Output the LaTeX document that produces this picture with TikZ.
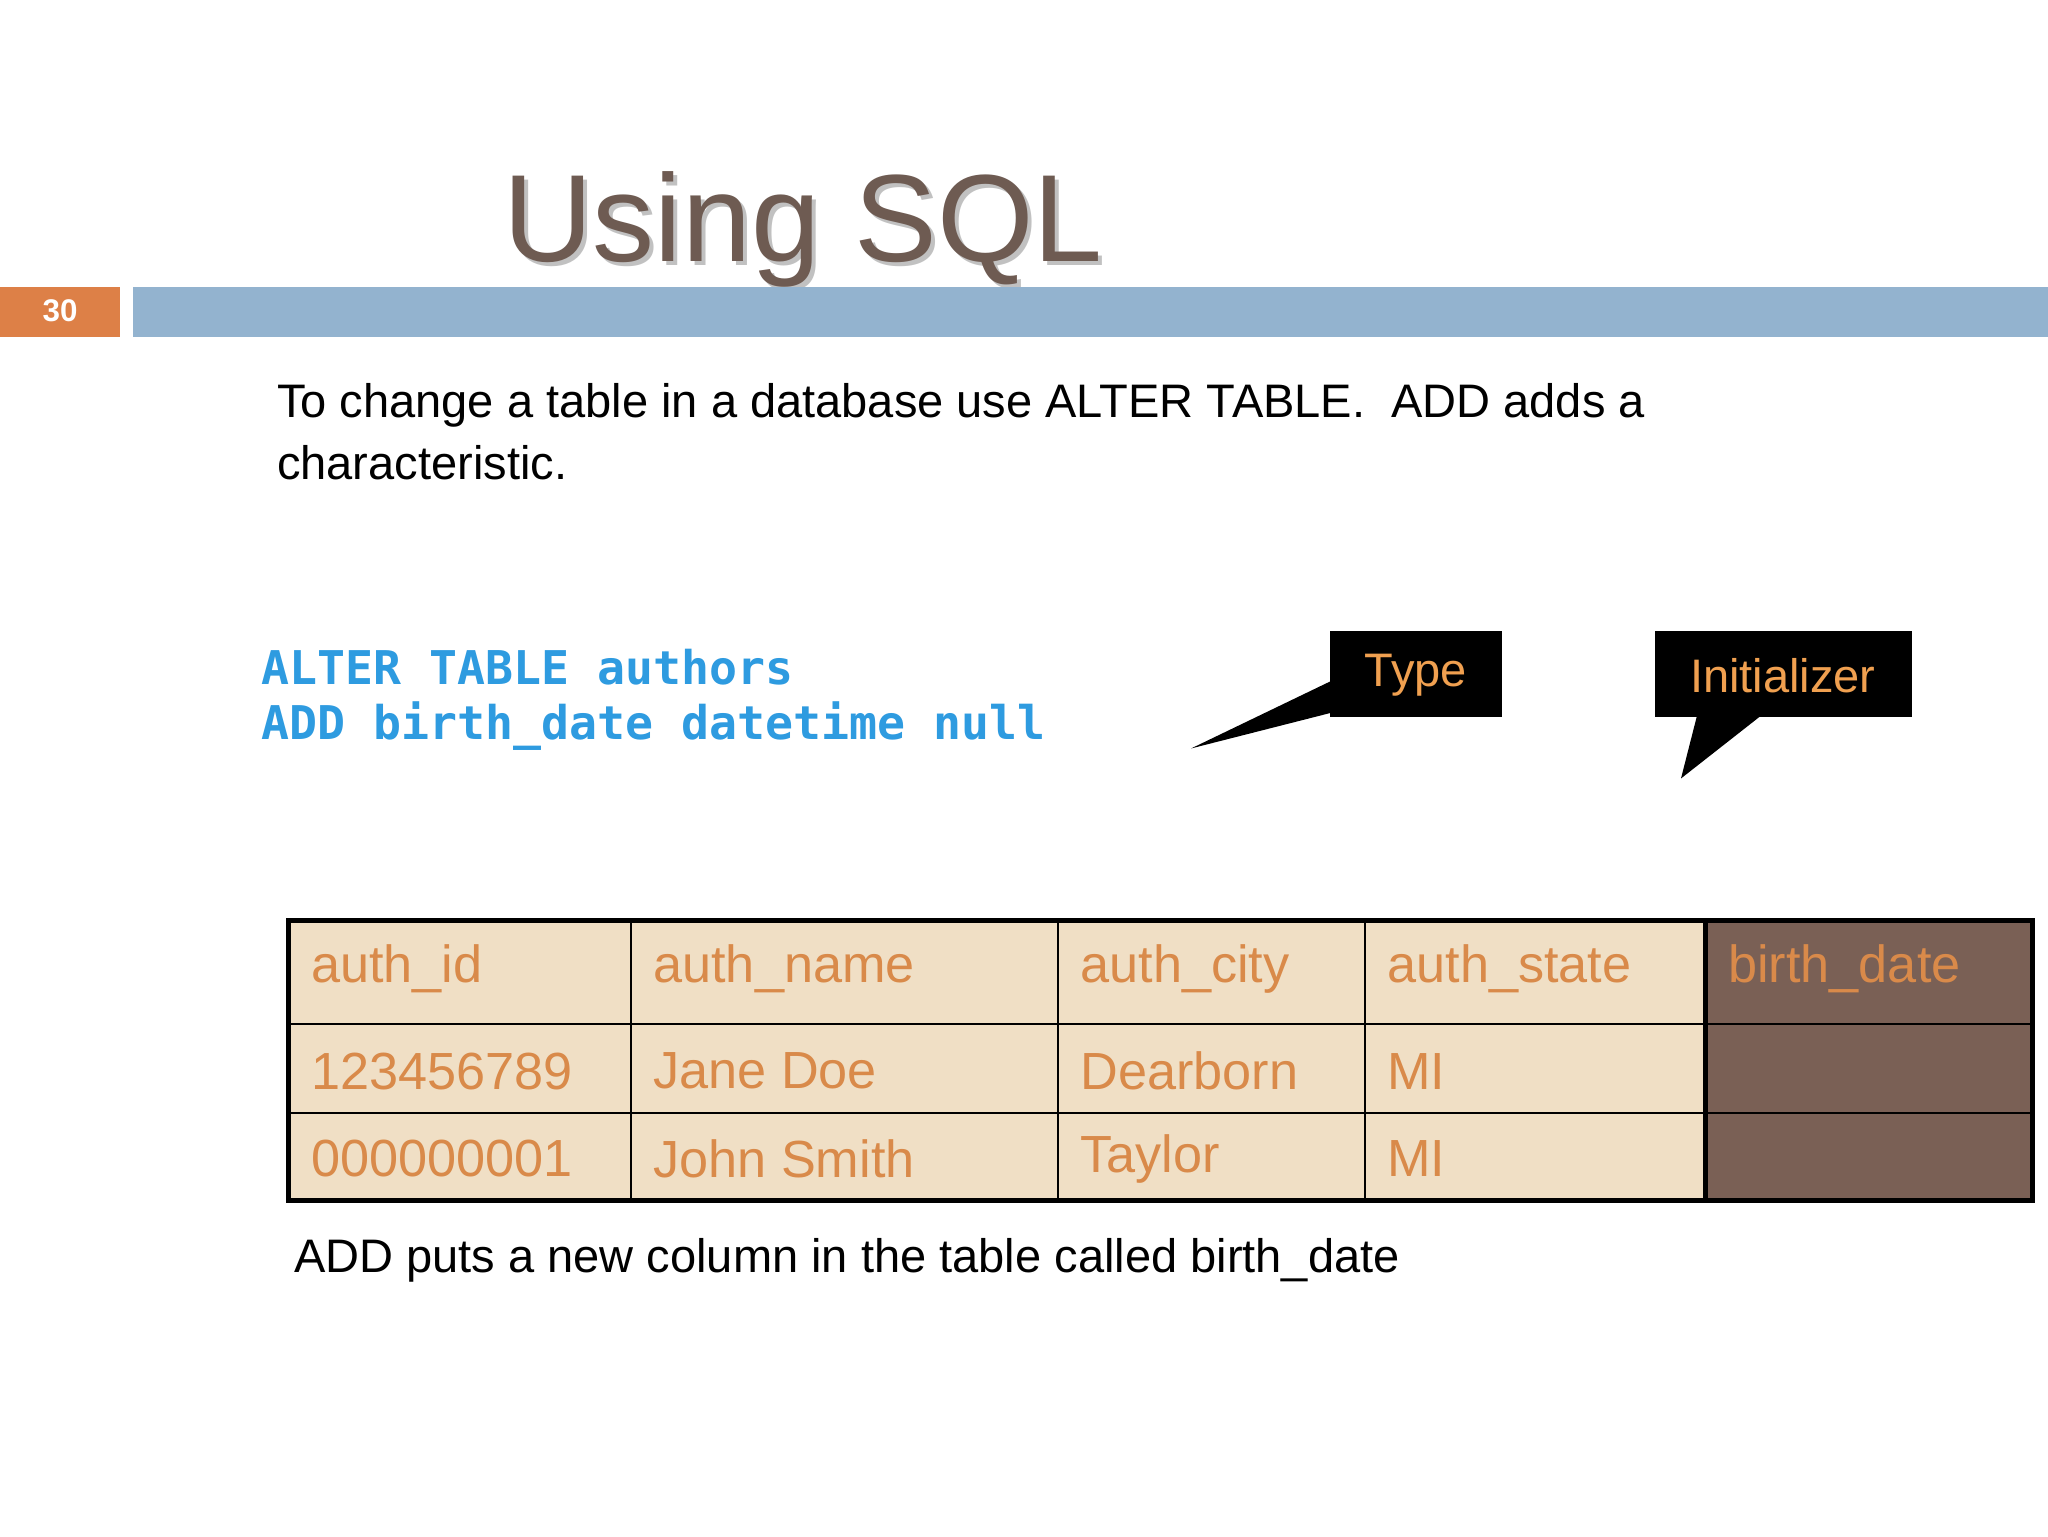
\documentclass[tikz,border=0pt]{standalone}
\usepackage{fontspec}
\setmainfont{Liberation Sans}
\newfontfamily\codefont{DejaVu Sans Mono}
\definecolor{titlec}{HTML}{6E5B52}
\definecolor{barblue}{HTML}{93B3CF}
\definecolor{numor}{HTML}{DD8047}
\definecolor{codeblue}{HTML}{2E9BE0}
\definecolor{calltx}{HTML}{F0A050}
\definecolor{cellfill}{HTML}{F0DFC5}
\definecolor{celltx}{HTML}{D98A4A}
\definecolor{brown}{HTML}{7A6055}
\tikzset{
 cell/.style={anchor=west,text=celltx,font=\fontsize{40}{46}\selectfont,inner sep=0pt},
 body/.style={anchor=base west,font=\fontsize{36}{42}\selectfont,inner sep=0pt},
 code/.style={anchor=base west,text=codeblue,font=\codefont\bfseries\fontsize{35.6}{42}\selectfont,inner sep=0pt},
 calltext/.style={text=calltx,font=\fontsize{36}{42}\selectfont,inner sep=0pt}
}
\begin{document}
\begin{tikzpicture}[x=1pt,y=-1pt]
\useasboundingbox[fill=white] (0,0) rectangle (1568,1176);
% title
\node[anchor=base west,text=black!40,opacity=0.6,font=\fontsize{95}{100}\selectfont,inner sep=0pt] (tshadow) at (388,203) {Using SQL};
\node[anchor=base west,text=titlec,font=\fontsize{95}{100}\selectfont,inner sep=0pt] (title) at (385,200) {Using SQL};
% bars
\fill[numor] (0,220) rectangle (92,258);
\node[text=white,font=\bfseries\fontsize{24}{28}\selectfont] (num) at (46,238) {30};
\fill[barblue] (102,220) rectangle (1568,258);
% intro
\node[body] (l1) at (212,320) {To change a table in a database use ALTER TABLE.\ \ ADD adds a};
\node[body] (l2) at (212,367) {characteristic.};
% code
\node[code] (c1) at (200,524) {ALTER TABLE authors};
\node[code] (c2) at (200,566) {ADD birth\_date datetime null};
% callouts
\fill[black] (1018,483) rectangle (1150,549);
\fill[black] (1022,520) -- (912,573) -- (1022,545) -- cycle;
\node[calltext] (type) at (1084,517) {Type};
\fill[black] (1267,483) rectangle (1464,549);
\fill[black] (1300,545) -- (1287,596) -- (1352,545) -- cycle;
\node[calltext] (init) at (1365,517) {Initializer};
% table
\fill[cellfill] (221,705) rectangle (1306,919);
\fill[brown] (1306,705) rectangle (1556,919);
\foreach \x in {483,810,1045} \draw[line width=2pt] (\x,705) -- (\x,919);
\draw[line width=2pt] (221,784) -- (1556,784);
\draw[line width=2pt] (221,852) -- (1556,852);
\draw[line width=4pt] (1306,705) -- (1306,919);
\draw[line width=4pt] (221,705) rectangle (1556,919);
\node[cell] (h1) at (238,742) {auth\_id};
\node[cell] (h2) at (500,742) {auth\_name};
\node[cell] (h3) at (827,742) {auth\_city};
\node[cell] (h4) at (1062,742) {auth\_state};
\node[cell] (h5) at (1323,742) {birth\_date};
\node[cell] (a1) at (238,820) {123456789};
\node[cell] (a2) at (500,820) {Jane Doe};
\node[cell] (a3) at (827,820) {Dearborn};
\node[cell] (a4) at (1062,820) {MI};
\node[cell] (b1) at (238,887) {000000001};
\node[cell] (b2) at (500,887) {John Smith};
\node[cell] (b3) at (827,887) {Taylor};
\node[cell] (b4) at (1062,887) {MI};
\node[body] (foot) at (225,974) {ADD puts a new column in the table called birth\_date};
\end{tikzpicture}
\end{document}
